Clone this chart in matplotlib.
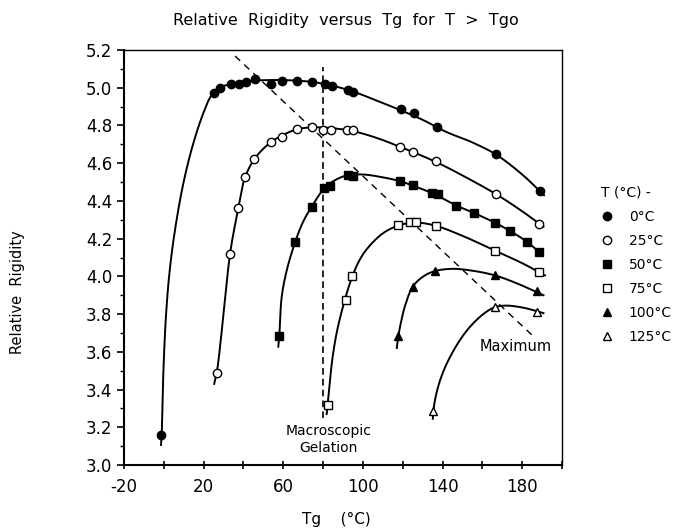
import numpy as np
import matplotlib
matplotlib.use("Agg")
import matplotlib.pyplot as plt
from matplotlib.lines import Line2D
from matplotlib.ticker import MultipleLocator

# measured points (Tg in C, relative rigidity)
tg_0 = [-1.3, 25, 28, 33.8, 37.8, 41.3, 46, 54, 59.5, 67, 74.6, 81, 84.3, 92.3, 95.2, 119, 125.8, 137, 167, 188.7]
rr_0 = [3.16, 4.97, 5.00, 5.02, 5.02, 5.03, 5.045, 5.02, 5.035, 5.035, 5.03, 5.02, 5.01, 4.99, 4.98, 4.885, 4.865, 4.79, 4.65, 4.455]

tg_25 = [26.6, 33.3, 37.4, 40.8, 45.5, 54, 59.2, 66.7, 74.6, 80, 83.8, 92.2, 95, 118.5, 125.4, 136.8, 166.7, 188.3]
rr_25 = [3.49, 4.12, 4.36, 4.525, 4.62, 4.71, 4.74, 4.78, 4.79, 4.775, 4.775, 4.775, 4.775, 4.685, 4.66, 4.61, 4.435, 4.28]

tg_50 = [58, 65.9, 74.3, 80.5, 83.5, 92.4, 95.2, 118.5, 125.4, 134.5, 137.5, 147, 156, 166.4, 174, 182.3, 188.2]
rr_50 = [3.683, 4.18, 4.37, 4.47, 4.48, 4.537, 4.534, 4.505, 4.484, 4.44, 4.435, 4.375, 4.335, 4.284, 4.24, 4.184, 4.13]

tg_75 = [82.6, 91.6, 94.4, 117.8, 123.5, 126.5, 136.6, 166.4, 188.2]
rr_75 = [3.318, 3.877, 4.0, 4.272, 4.29, 4.29, 4.267, 4.136, 4.025]

tg_100 = [117.8, 125, 136.2, 166.4, 187.6]
rr_100 = [3.684, 3.942, 4.03, 4.007, 3.92]

tg_125 = [135.4, 166.4, 187.6]
rr_125 = [3.287, 3.839, 3.813]

# fitted curves
fit_tg_0 = [-1.4, -1.05, -0.25, 0.95, 2.8, 5.6, 9.8, 14.8, 19.8, 24, 28, 34, 42, 50, 62, 75, 85, 95, 105, 118, 130, 142, 155, 167, 180, 191]
fit_rr_0 = [3.106, 3.168, 3.486, 3.768, 4.016, 4.245, 4.493, 4.705, 4.864, 4.961, 5.0, 5.02, 5.035, 5.04, 5.04, 5.03, 5.01, 4.98, 4.94, 4.885, 4.83, 4.765, 4.71, 4.645, 4.54, 4.43]

fit_tg_25 = [25.3, 26.6, 30, 33.3, 37.4, 40.8, 45.8, 53, 60, 67, 75, 85, 95, 108, 119, 125.4, 137, 150, 167, 180, 190.7]
fit_rr_25 = [3.43, 3.49, 3.80, 4.122, 4.36, 4.525, 4.626, 4.705, 4.75, 4.78, 4.79, 4.785, 4.77, 4.73, 4.685, 4.658, 4.605, 4.535, 4.435, 4.345, 4.263]

fit_tg_50 = [57.5, 58, 59.2, 61.7, 65.9, 70, 74.3, 80.5, 86, 92, 100, 110, 118.5, 125.4, 136, 147, 156, 166.4, 174, 182.3, 190]
fit_rr_50 = [3.627, 3.683, 3.89, 4.03, 4.18, 4.29, 4.37, 4.465, 4.51, 4.535, 4.54, 4.525, 4.505, 4.48, 4.435, 4.375, 4.335, 4.284, 4.24, 4.184, 4.115]

fit_tg_75 = [81.8, 83.0, 84.5, 86.8, 90, 94, 98, 102, 110, 118, 126, 136, 150, 166.4, 180, 191.5]
fit_rr_75 = [3.27, 3.40, 3.55, 3.70, 3.84, 3.98, 4.08, 4.145, 4.228, 4.27, 4.285, 4.27, 4.215, 4.136, 4.07, 4.005]

fit_tg_100 = [117, 117.8, 119.5, 121.2, 125, 130.4, 136.2, 145, 155, 166.4, 178, 190.7]
fit_rr_100 = [3.62, 3.684, 3.775, 3.845, 3.945, 4.0, 4.028, 4.04, 4.03, 4.005, 3.96, 3.90]

fit_tg_125 = [135.1, 135.4, 136.5, 138.8, 142, 147.1, 152, 157.2, 162, 166.4, 172, 180, 187.6, 190.7]
fit_rr_125 = [3.245, 3.287, 3.36, 3.45, 3.535, 3.635, 3.71, 3.77, 3.812, 3.837, 3.845, 3.835, 3.815, 3.805]

# dashed guide lines
gel_tg = [80, 80]
gel_rr = [3.25, 5.11]
max_tg = [35.8, 184.8]
max_rr = [5.168, 3.69]

labels = ["0°C", "25°C", "50°C", "75°C", "100°C", "125°C"]
markers = ["o", "o", "s", "s", "^", "^"]
filled = [True, False, True, False, True, False]

XMIN, XMAX, YMIN, YMAX = -20, 200, 3.0, 5.2


def smooth(xs, ys, n=25):
    # centripetal catmull-rom through the read curve points
    sx = (np.asarray(xs) - XMIN) / (XMAX - XMIN)
    sy = (np.asarray(ys) - YMIN) / (YMAX - YMIN) * 0.95
    P = np.column_stack([sx, sy])
    P = np.vstack([2 * P[0] - P[1], P, 2 * P[-1] - P[-2]])
    out = []
    for i in range(1, len(P) - 2):
        p0, p1, p2, p3 = P[i - 1:i + 3]
        t0 = 0.0
        t1 = t0 + np.linalg.norm(p1 - p0) ** 0.5
        t2 = t1 + np.linalg.norm(p2 - p1) ** 0.5
        t3 = t2 + np.linalg.norm(p3 - p2) ** 0.5
        t = np.linspace(t1, t2, n)[:, None]
        A1 = (t1 - t) / (t1 - t0) * p0 + (t - t0) / (t1 - t0) * p1
        A2 = (t2 - t) / (t2 - t1) * p1 + (t - t1) / (t2 - t1) * p2
        A3 = (t3 - t) / (t3 - t2) * p2 + (t - t2) / (t3 - t2) * p3
        B1 = (t2 - t) / (t2 - t0) * A1 + (t - t0) / (t2 - t0) * A2
        B2 = (t3 - t) / (t3 - t1) * A2 + (t - t1) / (t3 - t1) * A3
        out.append((t2 - t) / (t2 - t1) * B1 + (t - t1) / (t2 - t1) * B2)
    C = np.vstack(out)
    return C[:, 0] * (XMAX - XMIN) + XMIN, C[:, 1] / 0.95 * (YMAX - YMIN) + YMIN


plt.rcParams['font.family'] = ['DejaVu Sans']
plt.rcParams['axes.unicode_minus'] = False
fig = plt.figure(figsize=(6.73, 5.29), dpi=100)
ax = fig.add_axes([124 / 673, 1 - 465 / 529, (562 - 124) / 673, (465 - 50) / 529])

fits = [(fit_tg_0, fit_rr_0), (fit_tg_25, fit_rr_25), (fit_tg_50, fit_rr_50),
        (fit_tg_75, fit_rr_75), (fit_tg_100, fit_rr_100), (fit_tg_125, fit_rr_125)]
points = [(tg_0, rr_0), (tg_25, rr_25), (tg_50, rr_50),
          (tg_75, rr_75), (tg_100, rr_100), (tg_125, rr_125)]

for (fx, fy) in fits:
    sx, sy = smooth(fx, fy)
    ax.plot(sx, sy, color="black", lw=1.4, zorder=2)

handles = []
for (px, py), m, f, lab in zip(points, markers, filled, labels):
    fc = "black" if f else "white"
    ax.plot(px, py, ls="none", marker=m, ms=6, mfc=fc, mec="black", mew=1.0, zorder=3)
    handles.append(Line2D([], [], ls="none", marker=m, ms=6, mfc=fc, mec="black", mew=1.0))

ax.plot(gel_tg, gel_rr, color="black", lw=1.2, dashes=(4, 2.5), zorder=1)
ax.plot(max_tg, max_rr, color="black", lw=1.0, dashes=(5, 4), zorder=1)

ax.text(176.5, 3.627, "Maximum", ha="center", va="center", fontsize=10.5)
ax.text(82.5, 3.135, "Macroscopic\nGelation", ha="center", va="center",
        fontsize=10, multialignment="center", linespacing=1.3)

ax.set_xlim(XMIN, XMAX)
ax.set_ylim(YMIN, YMAX)
ax.set_xticks([-20, 20, 60, 100, 140, 180])
ax.xaxis.set_minor_locator(MultipleLocator(20))
ax.yaxis.set_major_locator(MultipleLocator(0.2))
ax.yaxis.set_minor_locator(MultipleLocator(0.1))
ax.set_yticklabels([f"{v:.1f}" for v in ax.get_yticks()])
ax.tick_params(axis="x", which="both", direction="inout", length=6, width=1.2, labelsize=12, pad=6)
ax.tick_params(axis="y", which="major", direction="out", length=5, width=1.2, labelsize=12)
ax.tick_params(axis="y", which="minor", direction="out", length=3, width=1.0)
for s in ["left", "bottom"]:
    ax.spines[s].set_linewidth(1.5)
for s in ["top", "right"]:
    ax.spines[s].set_linewidth(1.0)

fig.text(346 / 673, 1 - 21 / 529, "Relative  Rigidity  versus  Tg  for  T  >  Tgo",
         ha="center", va="center", fontsize=11.5)
fig.text(336 / 673, 1 - 519 / 529, "Tg    (°C)", ha="center", va="center", fontsize=11)
fig.text(18 / 673, 1 - 292 / 529, "Relative  Rigidity", ha="center", va="center",
         rotation=90, fontsize=10.5)

leg = ax.legend(handles, labels, loc="upper left", bbox_to_anchor=(601 / 673, 1 - 186 / 529),
                bbox_transform=fig.transFigure, frameon=False, handlelength=0.8,
                handletextpad=1.2, labelspacing=0.72, borderaxespad=0, borderpad=0,
                title="T (°C) -", alignment="left", fontsize=10, title_fontsize=10)

fig.savefig("out.png", dpi=100)
